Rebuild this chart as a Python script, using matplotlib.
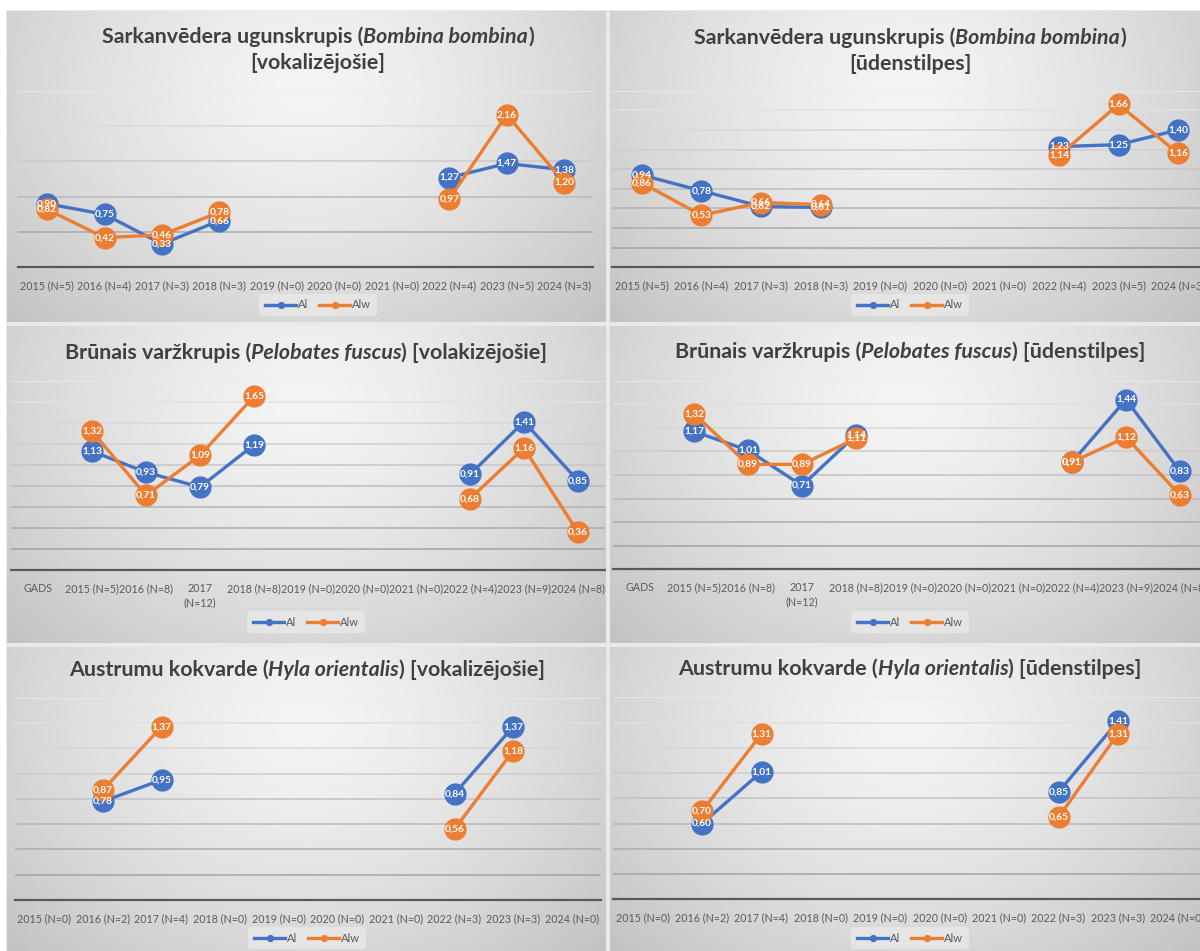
import numpy as np
import matplotlib.pyplot as plt
from matplotlib.patches import Rectangle
from matplotlib.transforms import Bbox, TransformedBbox

plt.rcParams['font.family'] = ['Lato', 'DejaVu Sans']

W, H = 1200, 951
nan = np.nan

# ---- data ----
years_bb = ['2015 (N=5)', '2016 (N=4)', '2017 (N=3)', '2018 (N=3)', '2019 (N=0)',
            '2020 (N=0)', '2021 (N=0)', '2022 (N=4)', '2023 (N=5)', '2024 (N=3)']
bb_voc_al = [0.90, 0.75, 0.33, 0.66, nan, nan, nan, 1.27, 1.47, 1.38]
bb_voc_alw = [0.82, 0.42, 0.46, 0.78, nan, nan, nan, 0.97, 2.16, 1.20]
bb_wat_al = [0.94, 0.78, 0.62, 0.61, nan, nan, nan, 1.23, 1.25, 1.40]
bb_wat_alw = [0.86, 0.53, 0.66, 0.64, nan, nan, nan, 1.14, 1.66, 1.16]

years_pf = ['GADS', '2015 (N=5)', '2016 (N=8)', '2017\n(N=12)', '2018 (N=8)', '2019 (N=0)',
            '2020 (N=0)', '2021 (N=0)', '2022 (N=4)', '2023 (N=9)', '2024 (N=8)']
pf_voc_al = [nan, 1.13, 0.93, 0.79, 1.19, nan, nan, nan, 0.91, 1.41, 0.85]
pf_voc_alw = [nan, 1.32, 0.71, 1.09, 1.65, nan, nan, nan, 0.68, 1.16, 0.36]
pf_wat_al = [nan, 1.17, 1.01, 0.71, 1.14, nan, nan, nan, 0.91, 1.44, 0.83]
pf_wat_alw = [nan, 1.32, 0.89, 0.89, 1.11, nan, nan, nan, 0.91, 1.12, 0.63]

years_ho = ['2015 (N=0)', '2016 (N=2)', '2017 (N=4)', '2018 (N=0)', '2019 (N=0)',
            '2020 (N=0)', '2021 (N=0)', '2022 (N=3)', '2023 (N=3)', '2024 (N=0)']
ho_voc_al = [nan, 0.78, 0.95, nan, nan, nan, nan, 0.84, 1.37, nan]
ho_voc_alw = [nan, 0.87, 1.37, nan, nan, nan, nan, 0.56, 1.18, nan]
ho_wat_al = [nan, 0.60, 1.01, nan, nan, nan, nan, 0.85, 1.41, nan]
ho_wat_alw = [nan, 0.70, 1.31, nan, nan, nan, nan, 0.65, 1.31, nan]

BLUE = '#4472C4'
ORANGE = '#ED7D31'
TXT = '#404040'
TICK = '#595959'

# ---- layout (pixel boxes: x0, y0, x1, y1 measured from top-left) ----
charts = [
    dict(panel=(7, 11, 606, 322), plot=(18.3, 90.7, 593, 267.3), ymax=2.5, step=0.5,
         cats=years_bb, al=bb_voc_al, alw=bb_voc_alw, cx=318, ty=[37, 63], leg_y=305,
         title=[[('Sarkanvēdera ugunskrupis (', 'normal'), ('Bombina bombina', 'italic'), (')', 'normal')],
                [('[vokalizējošie]', 'normal')]], col=0),
    dict(panel=(610, 11, 1200, 322), plot=(612, 90.7, 1208, 267.3), ymax=1.8, step=0.2,
         cats=years_bb, al=bb_wat_al, alw=bb_wat_alw, cx=910, ty=[38, 64], leg_y=305,
         title=[[('Sarkanvēdera ugunskrupis (', 'normal'), ('Bombina bombina', 'italic'), (')', 'normal')],
                [('[ūdenstilpes]', 'normal')]], col=1),
    dict(panel=(7, 326, 606, 643), plot=(11, 380.6, 605, 570.3), ymax=1.8, step=0.2,
         cats=years_pf, al=pf_voc_al, alw=pf_voc_alw, cx=306, ty=[353], leg_y=622,
         title=[[('Brūnais varžkrupis (', 'normal'), ('Pelobates fuscus', 'italic'),
                 (') [volakizējošie]', 'normal')]], col=0),
    dict(panel=(610, 326, 1200, 643), plot=(613, 380.7, 1207, 569.3), ymax=1.6, step=0.2,
         cats=years_pf, al=pf_wat_al, alw=pf_wat_alw, cx=910, ty=[352], leg_y=622,
         title=[[('Brūnais varžkrupis (', 'normal'), ('Pelobates fuscus', 'italic'),
                 (') [ūdenstilpes]', 'normal')]], col=1),
    dict(panel=(7, 647, 606, 951), plot=(15, 697.7, 601, 900), ymax=1.6, step=0.2,
         cats=years_ho, al=ho_voc_al, alw=ho_voc_alw, cx=307, ty=[670], leg_y=938,
         title=[[('Austrumu kokvarde (', 'normal'), ('Hyla orientalis', 'italic'),
                 (') [vokalizējošie]', 'normal')]], col=0),
    dict(panel=(610, 647, 1200, 951), plot=(613, 697.3, 1207, 899.3), ymax=1.6, step=0.2,
         cats=years_ho, al=ho_wat_al, alw=ho_wat_alw, cx=910, ty=[669], leg_y=938,
         title=[[('Austrumu kokvarde (', 'normal'), ('Hyla orientalis', 'italic'),
                 (') [ūdenstilpes]', 'normal')]], col=1),
]


def rect(box):
    x0, y0, x1, y1 = box
    return [x0 / W, 1 - y1 / H, (x1 - x0) / W, (y1 - y0) / H]


def fmt(v):
    return f'{v:.2f}'.replace('.', ',')


fig = plt.figure(figsize=(W / 100, H / 100), dpi=100, facecolor='#e9e9e9')
renderer = fig.canvas.get_renderer()
# white margin above and left of the screenshot grid
fig.add_artist(Rectangle((0, 1 - 10 / H), 1, 10 / H, transform=fig.transFigure,
                         facecolor='white', edgecolor='none', zorder=-1))
fig.add_artist(Rectangle((0, 0), 6 / W, 1, transform=fig.transFigure,
                         facecolor='white', edgecolor='none', zorder=-1))

# radial grey gradient used for every panel
u, v = np.meshgrid(np.linspace(0, 1, 300), np.linspace(0, 1, 200))
d = np.sqrt(((u - 0.5) / 0.6) ** 2 + ((v - 0.25) / 0.95) ** 2)
grad = 0.955 - 0.16 * d ** 1.4

for c in charts:
    z = c['col'] * 2
    bg = fig.add_axes(rect(c['panel']), zorder=z)
    bg.imshow(grad, cmap='gray', vmin=0, vmax=1, aspect='auto', extent=[0, 1, 0, 1],
              interpolation='bilinear')
    bg.set_axis_off()

    ax = fig.add_axes(rect(c['plot']), zorder=z + 1)
    ax.set_facecolor('none')
    n = len(c['cats'])
    x = np.arange(n)
    ax.set_xlim(-0.5, n - 0.5)
    ax.set_ylim(0, c['ymax'])
    ax.set_yticks(np.arange(0, c['ymax'] + 1e-6, c['step']))
    ax.set_yticklabels([])
    ax.set_xticks(x)
    ax.set_xticklabels(c['cats'], fontsize=7.7, color=TICK, linespacing=1.3)
    ax.tick_params(left=False, bottom=False, pad=6)
    for s in ['left', 'right', 'top']:
        ax.spines[s].set_visible(False)
    ax.spines['bottom'].set_color('#595959')
    ax.spines['bottom'].set_linewidth(1.6)
    ax.yaxis.grid(True, linewidth=1.1)
    gls = ax.get_ygridlines()
    for k, gl in enumerate(gls):
        f = k / max(len(gls) - 1, 1)
        g = 0.6 + 0.32 * f
        gl.set_color((g, g, g))

    ax.plot(x, c['al'], color=BLUE, lw=2.4, marker='o', ms=15, label='Al', zorder=3)
    ax.plot(x, c['alw'], color=ORANGE, lw=2.4, marker='o', ms=15, label='Alw', zorder=4)
    for series in (c['al'], c['alw']):
        for i, val in enumerate(series):
            if not np.isnan(val):
                ax.text(i, val, fmt(val), ha='center', va='center', fontsize=7.3,
                        fontweight='bold', color='white', zorder=6)

    clip = TransformedBbox(Bbox.from_bounds(*rect(c['panel'])), fig.transFigure)
    for lbl in ax.get_xticklabels():
        lbl.set_clip_box(clip)
        lbl.set_clip_on(True)

    leg = ax.legend(loc='center', ncol=2, bbox_to_anchor=(c['cx'] / W, 1 - c['leg_y'] / H),
                    bbox_transform=fig.transFigure, fontsize=8, frameon=True,
                    handlelength=2.8, handletextpad=0.15, columnspacing=1.0,
                    markerscale=0.28, borderpad=0.5)
    leg.get_frame().set_facecolor('#eeeeee')
    leg.get_frame().set_edgecolor('none')
    leg.get_frame().set_alpha(0.6)
    for t in leg.get_texts():
        t.set_color(TICK)
    leg.set_zorder(7)

    # title with italic species name
    for parts, ty in zip(c['title'], c['ty']):
        texts = [fig.text(0, 0, s, fontsize=15.4, fontweight='bold', fontstyle=st,
                          color=TXT, ha='left', va='center', zorder=10)
                 for s, st in parts]
        widths = [t.get_window_extent(renderer).width for t in texts]
        xs = c['cx'] - sum(widths) / 2
        for t, w in zip(texts, widths):
            t.set_position((xs / W, 1 - ty / H))
            xs += w

fig.savefig('out.png', dpi=100, facecolor=fig.get_facecolor())
